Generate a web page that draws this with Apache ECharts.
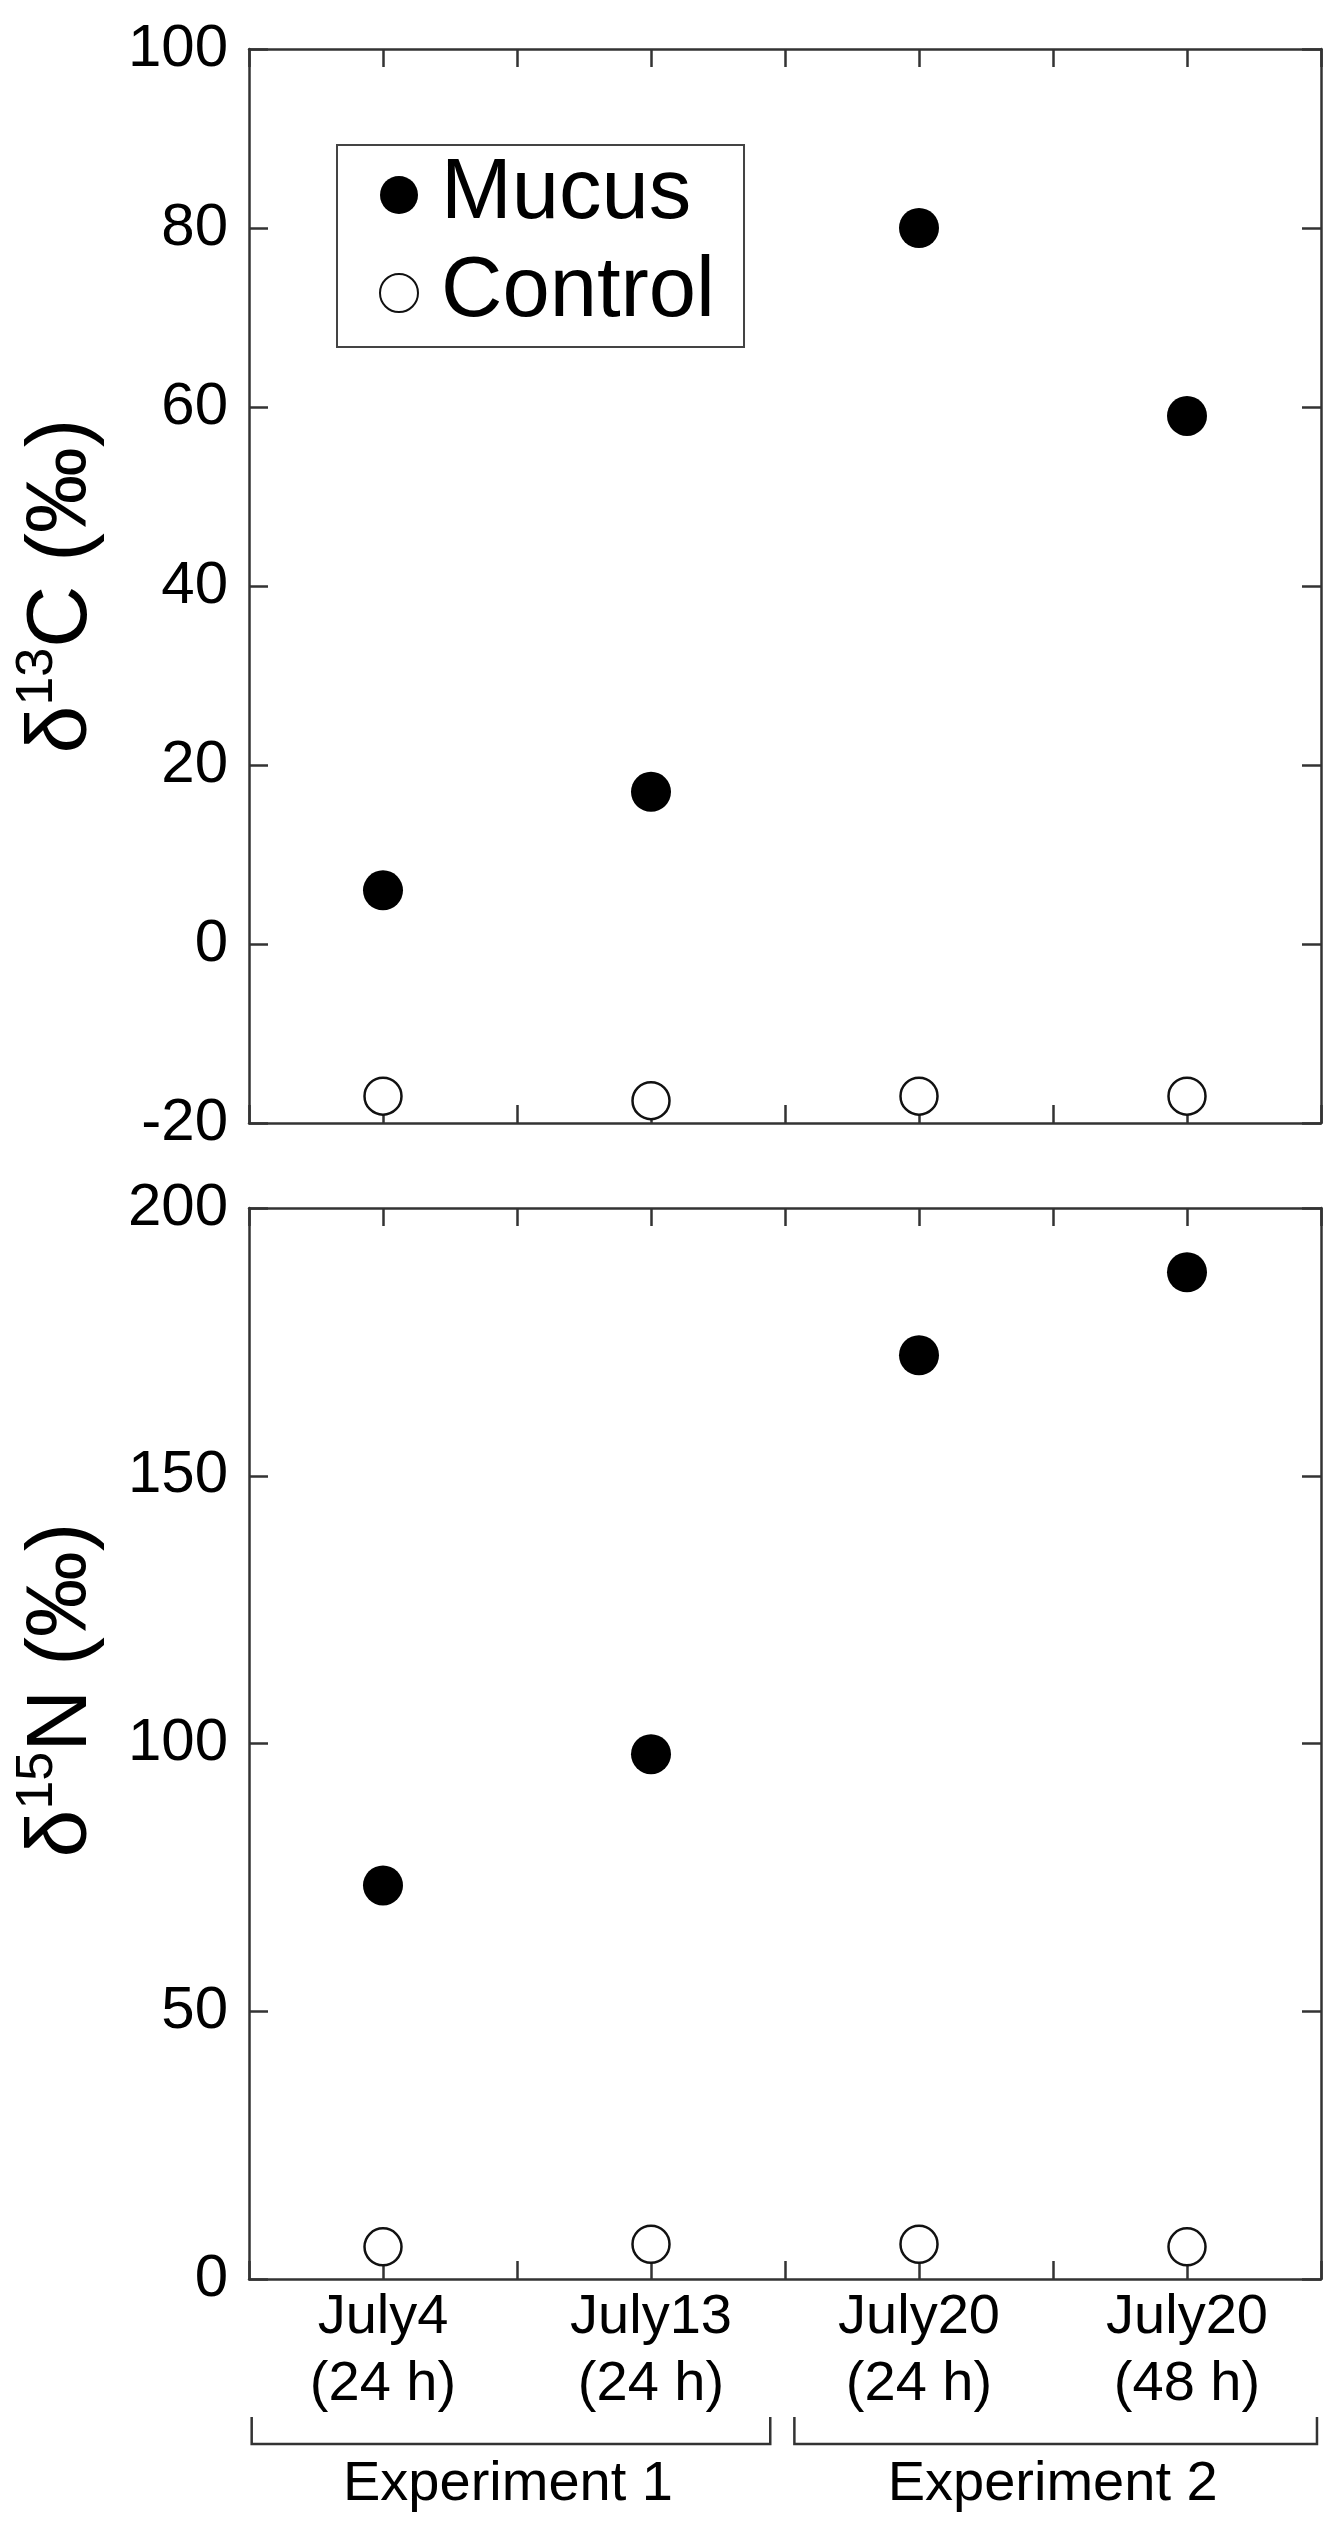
<!DOCTYPE html>
<html>
<head>
<meta charset="utf-8">
<script src="https://cdn.jsdelivr.net/npm/echarts@6/dist/echarts.min.js"></script>
<style>
html,body{margin:0;padding:0;background:#fff;}
#chart{width:1342px;height:2522px;}
</style>
</head>
<body>
<div id="chart"></div>
<script>
// ---- data ----
var categories = ['July4\n(24 h)', 'July13\n(24 h)', 'July20\n(24 h)', 'July20\n(48 h)'];
var carbonMucus = [6, 17, 80, 59];
var carbonControl = [-17, -17.5, -17, -17];
var nitrogenMucus = [73.5, 98, 172.5, 188];
var nitrogenControl = [6, 6.5, 6.5, 6];
var carbonTicks = { min: -20, max: 100, interval: 20 };
var nitrogenTicks = { min: 0, max: 200, interval: 50 };
var groups = [
  { name: 'Experiment 1', from: -0.49, to: 1.445 },
  { name: 'Experiment 2', from: 1.535, to: 3.485 }
];

function pairs(arr) { return arr.map(function (v, i) { return [i, v]; }); }

var FONT = 'Liberation Sans, Arial, Helvetica, sans-serif';
var LINE = '#333';
var G0 = { left: 249, top: 49, width: 1072, height: 1074 };
var G1 = { left: 249, top: 1208, width: 1072, height: 1071 };

function xAx(grid, pos, labels) {
  return {
    type: 'value', gridIndex: grid, position: pos,
    min: -0.5, max: 3.5, interval: 0.5,
    axisLine: { show: true, onZero: false, lineStyle: { color: LINE, width: 2.5 } },
    axisTick: { show: true, inside: true, length: 18, lineStyle: { color: LINE, width: 2.5 } },
    splitLine: { show: false },
    axisLabel: {
      show: labels, margin: 5, color: '#000', fontFamily: FONT, fontSize: 56, lineHeight: 67,
      showMinLabel: true, showMaxLabel: true,
      formatter: function (v) {
        var r = Math.round(v);
        return (Math.abs(v - r) < 1e-6 && r >= 0 && r < categories.length) ? categories[r] : '';
      }
    }
  };
}
function yAx(grid, pos, t, labels) {
  return {
    type: 'value', gridIndex: grid, position: pos,
    min: t.min, max: t.max, interval: t.interval,
    axisLine: { show: true, onZero: false, lineStyle: { color: LINE, width: 2.5 } },
    axisTick: { show: true, inside: true, length: 19, lineStyle: { color: LINE, width: 2.5 } },
    splitLine: { show: false },
    axisLabel: { show: labels, margin: 21, color: '#000', fontFamily: FONT, fontSize: 60 }
  };
}

var mucusStyle = { color: '#000', borderColor: '#000', borderWidth: 0, opacity: 1 };
var controlStyle = { color: '#fff', borderColor: '#111', borderWidth: 2.5, opacity: 1 };

var chart = echarts.init(document.getElementById('chart'), null, { renderer: 'canvas' });
var option = {
  backgroundColor: '#fff',
  animation: false,
  grid: [
    Object.assign({ containLabel: false }, G0),
    Object.assign({ containLabel: false }, G1)
  ],
  xAxis: [xAx(0, 'bottom', false), xAx(0, 'top', false), xAx(1, 'bottom', true), xAx(1, 'top', false)],
  yAxis: [yAx(0, 'left', carbonTicks, true), yAx(0, 'right', carbonTicks, false),
          yAx(1, 'left', nitrogenTicks, true), yAx(1, 'right', nitrogenTicks, false)],
  legend: {
    orient: 'vertical', left: 337, top: 145,
    padding: [5, 29, 9, 42], itemGap: 8,
    itemWidth: 74, itemHeight: 38,
    borderColor: '#444', borderWidth: 2, borderRadius: 0,
    textStyle: { fontFamily: FONT, fontSize: 85, lineHeight: 90, color: '#000' },
    data: ['Mucus', 'Control']
  },
  series: [
    { name: 'Mucus', type: 'scatter', xAxisIndex: 0, yAxisIndex: 0, symbol: 'circle', symbolSize: 40,
      itemStyle: mucusStyle, data: pairs(carbonMucus), clip: false },
    { name: 'Control', type: 'scatter', xAxisIndex: 0, yAxisIndex: 0, symbol: 'circle', symbolSize: 37,
      itemStyle: controlStyle, data: pairs(carbonControl), clip: false },
    { name: 'Mucus', type: 'scatter', xAxisIndex: 2, yAxisIndex: 2, symbol: 'circle', symbolSize: 40,
      itemStyle: mucusStyle, data: pairs(nitrogenMucus), clip: false },
    { name: 'Control', type: 'scatter', xAxisIndex: 2, yAxisIndex: 2, symbol: 'circle', symbolSize: 37,
      itemStyle: controlStyle, data: pairs(nitrogenControl), clip: false }
  ]
};
chart.setOption(option);

// y-axis titles and experiment brackets
var rich = {
  a: { fontFamily: FONT, fontSize: 86, lineHeight: 100, verticalAlign: 'middle', fill: '#000', color: '#000' },
  s: { fontFamily: FONT, fontSize: 52, lineHeight: 72, verticalAlign: 'top', fill: '#000', color: '#000' }
};
function yTitle(x, y, iso, el) {
  return {
    type: 'text', x: x, y: y, rotation: Math.PI / 2,
    style: { text: '{a|δ}{s|' + iso + '}{a|' + el + ' (‰)}', rich: rich, align: 'center', verticalAlign: 'middle' }
  };
}
var graphics = [
  yTitle(62, 586, '13', 'C'),
  yTitle(62, 1690, '15', 'N')
];
var yTop = 2417, yLine = 2444;
groups.forEach(function (g) {
  var x1 = chart.convertToPixel({ xAxisIndex: 2 }, g.from);
  var x2 = chart.convertToPixel({ xAxisIndex: 2 }, g.to);
  graphics.push({
    type: 'polyline',
    shape: { points: [[x1, yTop], [x1, yLine], [x2, yLine], [x2, yTop]] },
    style: { stroke: LINE, lineWidth: 2.5, fill: null }
  });
  graphics.push({
    type: 'text', x: (x1 + x2) / 2 - 3, y: 2485,
    style: { text: g.name, fontFamily: FONT, fontSize: 56, fill: '#000', align: 'center', verticalAlign: 'middle' }
  });
});
chart.setOption({ graphic: graphics });
</script>
</body>
</html>
